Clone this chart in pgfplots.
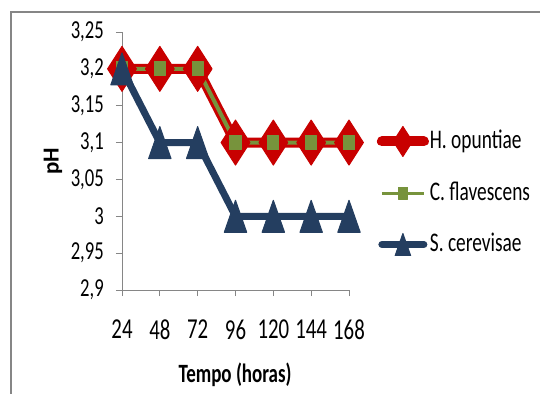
\documentclass[border=0pt]{standalone}
\usepackage{fontspec}
\setmainfont{Carlito}[FakeStretch=0.72]
\newfontfamily\plainfont{Carlito}
\usepackage{pgfplots}
\pgfplotsset{compat=1.18}
\definecolor{cred}{RGB}{200,0,0}
\definecolor{cgreen}{RGB}{119,147,60}
\definecolor{cblue}{RGB}{36,62,96}
\definecolor{cgray}{RGB}{134,134,134}
\pgfdeclareplotmark{tdia}{%
  \pgfpathmoveto{\pgfqpoint{0pt}{\pgfplotmarksize}}%
  \pgfpathlineto{\pgfqpoint{0.64\pgfplotmarksize}{0pt}}%
  \pgfpathlineto{\pgfqpoint{0pt}{-\pgfplotmarksize}}%
  \pgfpathlineto{\pgfqpoint{-0.64\pgfplotmarksize}{0pt}}%
  \pgfpathclose\pgfusepathqfillstroke}
\pgfdeclareplotmark{tsq}{%
  \pgfpathrectanglecorners{\pgfqpoint{-0.8\pgfplotmarksize}{-\pgfplotmarksize}}{\pgfqpoint{0.8\pgfplotmarksize}{\pgfplotmarksize}}%
  \pgfusepathqfillstroke}
\pgfdeclareplotmark{ttri}{%
  \pgfpathmoveto{\pgfqpoint{0pt}{\pgfplotmarksize}}%
  \pgfpathlineto{\pgfqpoint{0.7\pgfplotmarksize}{-\pgfplotmarksize}}%
  \pgfpathlineto{\pgfqpoint{-0.7\pgfplotmarksize}{-\pgfplotmarksize}}%
  \pgfpathclose\pgfusepathqfillstroke}
\begin{document}
\begin{tikzpicture}
\useasboundingbox (-122bp,-104bp) rectangle (418bp,290bp);
\begin{axis}[
  at={(0,0)}, anchor=south west,
  scale only axis, width=227bp, height=258bp,
  xmin=24, xmax=168, ymin=2.9, ymax=3.25,
  axis lines*=left,
  axis line style={cgray, line width=0.9bp},
  tick style={cgray, line width=0.9bp},
  tick align=outside, major tick length=6bp,
  xtick={24,48,72,96,120,144,168},
  xticklabels={24,48,72,96,120,144,168},
  ytick={2.9,2.95,3,3.05,3.1,3.15,3.2,3.25},
  yticklabels={{2,9},{2,95},{3},{3,05},{3,1},{3,15},{3,2},{3,25}},
  /pgf/number format/assume math mode=true,
  xticklabel style={font=\fontsize{29}{31}\selectfont, inner sep=0pt, yshift=-24bp},
  yticklabel style={font=\fontsize{26}{28}\selectfont, inner sep=0pt, xshift=-12bp},
  xlabel={Tempo (horas)},
  xlabel style={font=\bfseries\fontsize{26.5}{28}\selectfont, at={(axis description cs:0.498,-0.3295)}, anchor=center},
  ylabel={pH},
  ylabel style={font=\plainfont\bfseries\fontsize{23}{25}\selectfont, at={(axis description cs:-0.304,0.5)}, anchor=center},
  clip=false,
  legend image code/.code={\draw[mark repeat=2,mark phase=2,#1] plot coordinates {(0bp,0bp) (21bp,0bp) (42bp,0bp)};},
  legend style={draw=none, fill=none, at={(rel axis cs:1.122,0.378)}, anchor=west,
    legend cell align=left, inner sep=0pt, row sep=23bp,
    nodes={font=\fontsize{27}{29}\selectfont, text height=20bp, text depth=6bp, inner sep=1bp}},
]
\addplot[color=cred, line width=10bp, line join=round, line cap=round,
  mark=tdia, mark size=22.5bp, mark options={solid, fill=cred, draw=cred, line width=1bp, line join=round},
  legend image post style={mark size=15bp}]
  coordinates {(24,3.2) (48,3.2) (72,3.2) (96,3.1) (120,3.1) (144,3.1) (168,3.1)};
\addlegendentry{H. opuntiae}
\addplot[color=cgreen, line width=4bp, line join=round,
  mark=tsq, mark size=7bp, mark options={solid, fill=cgreen, draw=cgreen, line width=1bp},
  legend image post style={mark size=6bp, line width=3bp}]
  coordinates {(24,3.2) (48,3.2) (72,3.2) (96,3.1) (120,3.1) (144,3.1) (168,3.1)};
\addlegendentry{C. flavescens}
\addplot[color=cblue, line width=7bp, line join=round, line cap=round,
  mark=ttri, mark size=16bp, mark options={solid, fill=cblue, draw=cblue, line width=1bp, line join=round},
  legend image post style={mark size=11bp}]
  coordinates {(24,3.2) (48,3.1) (72,3.1) (96,3.0) (120,3.0) (144,3.0) (168,3.0)};
\addlegendentry{S. cerevisae}
\end{axis}
\draw[cgray, line width=1.5bp] (-111bp,-104bp) -- (-111bp,278bp) -- (418bp,278bp);
\end{tikzpicture}
\end{document}
